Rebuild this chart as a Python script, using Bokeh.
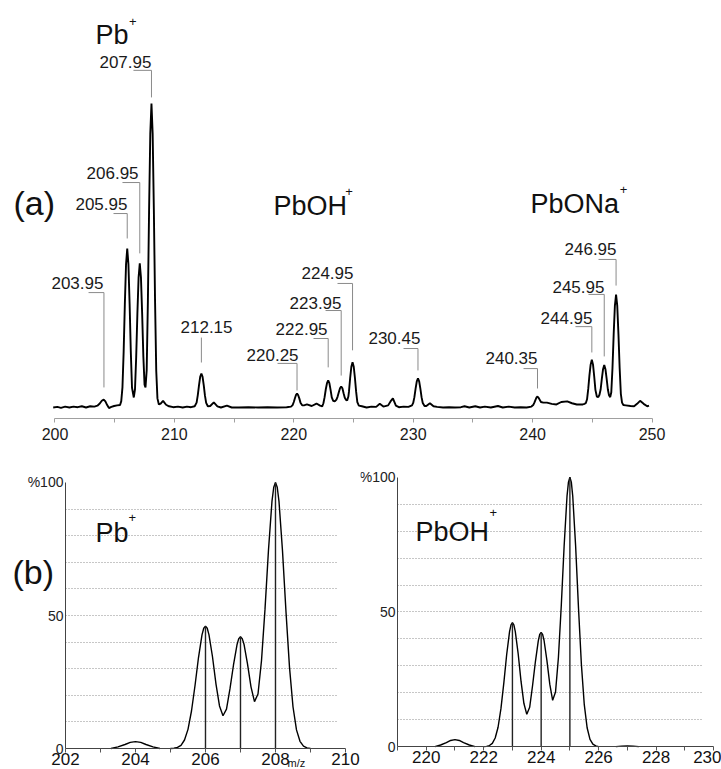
from bokeh.plotting import figure
from bokeh.layouts import column, row
from bokeh.models import FixedTicker, Label
from bokeh.embed import file_html
from bokeh.resources import INLINE
from bokeh.core.properties import value

FONT = "Liberation Sans"

# ---------------- (a) survey spectrum (m/z, relative intensity, 207.95 peak = 100) ----------------
top_mz = [199.85, 200.2, 200.5, 200.85, 201.2, 201.55, 201.9, 202.25, 202.6, 202.95, 203.3, 203.55,
          203.75, 203.92, 204.08, 204.22, 204.37, 204.52, 204.72, 204.95, 205.2, 205.45, 205.55, 205.65,
          205.75, 205.85, 205.95, 206.05, 206.15, 206.25, 206.35, 206.45, 206.6, 206.7, 206.8, 206.9,
          207.0, 207.1, 207.2, 207.3, 207.4, 207.5, 207.58, 207.68, 207.78, 207.88, 207.98, 208.08,
          208.18, 208.28, 208.38, 208.48, 208.58, 208.7, 208.85, 209.05, 209.3, 209.55, 209.9, 210.3,
          210.7, 211.05, 211.4, 211.7, 211.86, 211.96, 212.06, 212.16, 212.26, 212.36, 212.46, 212.56,
          212.66, 212.8, 213.0, 213.3, 213.6, 213.9, 214.4, 214.8, 215.4, 216.2, 217.0, 217.8, 218.6,
          219.4, 219.77, 219.9, 220.0, 220.1, 220.19, 220.27, 220.36, 220.46, 220.56, 220.7, 220.85,
          221.1, 221.5, 221.9, 222.2, 222.38, 222.48, 222.58, 222.68, 222.78, 222.88, 222.98, 223.08,
          223.18, 223.3, 223.43, 223.57, 223.67, 223.77, 223.87, 223.97, 224.07, 224.17, 224.27, 224.38,
          224.47, 224.57, 224.62, 224.72, 224.82, 224.92, 225.02, 225.12, 225.22, 225.32, 225.45, 225.7,
          226.1, 226.5, 226.9, 227.2, 227.5, 227.9, 228.1, 228.3, 228.55, 228.8, 229.2, 229.6, 229.9,
          230.0, 230.1, 230.2, 230.3, 230.4, 230.5, 230.6, 230.7, 230.8, 230.95, 231.1, 231.4, 231.7,
          232.0, 232.5, 233.0, 233.5, 234.0, 234.3, 234.7, 235.2, 235.6, 236.0, 236.5, 237.1, 237.5,
          238.0, 238.5, 239.0, 239.5, 239.9, 240.05, 240.15, 240.25, 240.33, 240.41, 240.5, 240.6,
          240.7, 240.9, 241.2, 241.6, 242.0, 242.4, 242.9, 243.3, 243.7, 244.2, 244.36, 244.46, 244.56,
          244.66, 244.76, 244.86, 244.96, 245.06, 245.16, 245.26, 245.38, 245.5, 245.6, 245.7, 245.8,
          245.9, 246.0, 246.1, 246.2, 246.3, 246.4, 246.5, 246.59, 246.69, 246.79, 246.89, 246.99,
          247.09, 247.19, 247.29, 247.39, 247.49, 247.6, 247.8, 248.2, 248.5, 248.75, 249.0, 249.3,
          249.6, 249.75]
top_int = [0.0, 0.2, -0.1, 0.3, 0.0, 0.3, 0.1, 0.4, 0.0, 0.4, 0.3, 0.6,
           1.3, 2.2, 2.6, 2.0, 0.8, -0.2, 0.2, 0.5, 0.7, 0.8, 2.1, 6.6,
           18.3, 34.0, 47.1, 52.3, 47.1, 34.0, 18.3, 6.5, 3.3, 6.0, 16.6, 30.8,
           42.7, 47.4, 42.7, 30.8, 16.8, 7.5, 6.6, 12.3, 35.0, 65.0, 90.0, 100.0,
           90.0, 65.0, 35.0, 12.0, 3.0, 1.0, 1.3, 2.2, 0.9, 0.4, 0.1, 0.3,
           0.0, 0.3, 0.1, 0.4, 1.6, 4.1, 7.3, 10.1, 11.2, 10.1, 7.3, 3.9,
           1.5, 0.4, 0.5, 1.7, 0.4, 0.0, 0.6, 0.0, 0.0, 0.1, 0.0, 0.1, 0.0,
           0.1, 0.3, 0.8, 1.8, 3.1, 4.2, 4.6, 4.1, 3.0, 1.6, 0.7, 0.7,
           1.0, 0.5, 1.3, 0.6, 0.4, 1.4, 3.4, 6.0, 8.0, 8.9, 8.0, 5.8,
           3.3, 2.2, 2.0, 2.6, 3.6, 5.0, 6.3, 6.9, 6.3, 4.7, 3.2, 2.5,
           2.3, 3.6, 5.2, 9.7, 13.4, 14.9, 13.4, 9.7, 5.2, 1.8, 0.6, 0.4,
           0.0, 0.3, 0.2, 1.2, 0.3, 0.7, 2.0, 3.0, 0.6, 0.1, 0.3, 0.2, 0.7,
           1.5, 3.4, 6.2, 8.6, 9.6, 8.6, 6.2, 3.4, 1.5, 0.5, 0.5, 1.4, 0.4,
           0.2, 0.0, 0.1, 0.0, 0.1, 0.4, 0.0, 0.4, 0.0, 0.3, 0.0, 0.5, 0.0,
           0.3, 0.0, 0.1, 0.0, 0.3, 0.8, 1.6, 2.6, 3.3, 3.6, 3.2, 2.5,
           1.8, 1.6, 1.6, 1.2, 1.0, 1.8, 2.0, 1.4, 1.0, 1.0, 1.2, 1.5, 2.7,
           6.1, 10.6, 14.1, 15.7, 14.1, 10.2, 5.8, 3.6, 3.4, 4.2, 6.0, 9.5,
           12.6, 14.0, 12.6, 9.5, 6.0, 4.0, 3.4, 5.0, 13.0, 24.1, 33.4, 37.1,
           33.4, 24.1, 13.0, 4.5, 1.6, 0.8, 0.7, 0.5, 0.4, 1.2, 2.2, 1.2,
           0.4, 0.6]

top_ticks = [200, 205, 210, 215, 220, 225, 230, 235, 240, 245, 250]

# peak labels of panel (a)
ann_text = ["203.95", "205.95", "206.95", "207.95", "212.15", "220.25", "222.95",
            "223.95", "224.95", "230.45", "240.35", "244.95", "245.95", "246.95"]
ann_peak_mz = [204.1, 206.05, 207.1, 208.08, 212.26, 220.27, 222.88,
               223.97, 224.92, 230.4, 240.41, 244.96, 246.0, 246.99]
# annotation layout (label centre, leader elbow, leader end) in data units
ann_text_x = [201.88, 203.89, 204.82, 205.9, 212.69, 218.22, 220.65,
              221.82, 222.82, 228.43, 238.23, 242.84, 243.84, 244.85]
ann_text_y = [41.1, 67.1, 77.0, 113.8, 26.6, 17.4, 25.7, 34.5, 44.1, 22.7, 16.4, 29.6, 39.8, 52.0]
ann_elbow_x = [202.81, 204.9, 205.65, 206.57, 212.26, 218.64, 221.65,
               222.66, 223.66, 229.19, 239.24, 243.59, 244.68, 245.52]
ann_elbow_y = [37.8, 63.8, 74.0, 110.9, 23.0, 14.5, 22.7, 31.9, 40.8, 19.4, 12.8, 26.6, 37.2, 48.7]
ann_end_y = [6.6, 55.6, 50.7, 102.0, 14.8, 5.6, 13.2, 10.5, 18.8, 12.2, 6.25, 18.1, 16.8, 40.1]

# ---------------- (b) simulated isotope patterns ----------------
pb_bump_mz = [203.3, 203.5, 203.7, 203.85, 204.0, 204.15, 204.3, 204.5, 204.7]
pb_bump_int = [0.0, 0.6, 1.5, 2.3, 2.6, 2.3, 1.5, 0.6, 0.0]
pb_mz = [205.0, 205.1, 205.2, 205.3, 205.4, 205.5, 205.6, 205.7, 205.8, 205.9, 205.95, 206.0,
         206.05, 206.1, 206.2, 206.3, 206.4, 206.5, 206.6, 206.7, 206.8, 206.9, 206.95, 207.0,
         207.05, 207.1, 207.2, 207.3, 207.4, 207.5, 207.6, 207.7, 207.8, 207.9, 207.95, 208.0,
         208.05, 208.1, 208.2, 208.3, 208.4, 208.5, 208.6, 208.7, 208.8, 208.9, 209.0]
pb_int = [0.0, 0.1, 0.4, 1.2, 3.2, 7.2, 14.1, 23.6, 34.2, 42.7, 45.2, 46.0,
          45.2, 42.7, 34.5, 24.2, 16.0, 12.3, 14.8, 22.5, 31.4, 39.0, 41.3, 42.0,
          41.3, 39.2, 31.8, 23.2, 17.6, 20.5, 33.0, 52.3, 74.6, 93.0, 98.2, 100.0,
          98.2, 92.9, 74.4, 51.4, 30.6, 15.7, 7.0, 2.7, 0.9, 0.25, 0.0]
pb_stick_mz = [206, 207, 208]
pb_stick_int = [46, 42, 100]

pboh_bump_mz = [220.3, 220.5, 220.7, 220.85, 221.0, 221.15, 221.3, 221.5, 221.7]
pboh_bump_int = [0.0, 0.6, 1.5, 2.3, 2.6, 2.3, 1.5, 0.6, 0.0]
pboh_tail_mz = [226.6, 226.8, 227.0, 227.2, 227.4]
pboh_tail_int = [0.0, 0.2, 0.3, 0.2, 0.0]
pboh_mz = [222.0, 222.1, 222.2, 222.3, 222.4, 222.5, 222.6, 222.7, 222.8, 222.9, 222.95, 223.0,
           223.05, 223.1, 223.2, 223.3, 223.4, 223.5, 223.6, 223.7, 223.8, 223.9, 223.95, 224.0,
           224.05, 224.1, 224.2, 224.3, 224.4, 224.5, 224.6, 224.7, 224.8, 224.9, 224.95, 225.0,
           225.05, 225.1, 225.2, 225.3, 225.4, 225.5, 225.6, 225.7, 225.8, 225.9, 226.0]
pboh_int = [0.0, 0.1, 0.4, 1.2, 3.2, 7.2, 14.1, 23.6, 34.2, 42.7, 45.2, 46.0,
            45.2, 42.7, 34.5, 24.2, 16.0, 12.0, 14.6, 22.6, 31.6, 39.3, 41.7, 42.4,
            41.7, 39.5, 32.0, 23.2, 17.2, 20.3, 33.0, 52.3, 74.6, 93.0, 98.2, 100.0,
            98.2, 92.9, 74.4, 51.4, 30.6, 15.7, 7.0, 2.7, 0.9, 0.25, 0.0]
pboh_stick_mz = [223, 224, 225]
pboh_stick_int = [46, 42.4, 100]

b_grid = [10, 20, 30, 40, 50, 60, 70, 80, 90]
b_yticks = [0, 50, 100]
pb_xticks = [202, 203, 204, 205, 206, 207, 208, 209, 210]
pboh_xticks = [219, 220, 221, 222, 223, 224, 225, 226, 227, 228, 229, 230]


def clean(p):
    p.outline_line_color = None
    p.background_fill_color = "white"
    p.border_fill_color = "white"


# ---------------- top panel ----------------
p1 = figure(width=721, height=448, x_range=(195.436, 255.82), y_range=(-3.62, 133.88),
            output_backend="svg", toolbar_location=None, y_axis_location=None,
            min_border_left=0, min_border_right=0, min_border_top=0, min_border_bottom=30)
clean(p1)
p1.grid.visible = False
ax = p1.xaxis[0]
ax.bounds = (200, 250)
ax.ticker = FixedTicker(ticks=top_ticks)
ax.major_label_overrides = {t: "" for t in top_ticks if t % 10 != 0}
ax.axis_line_color = "#a0a0a0"
ax.major_tick_line_color = "#a0a0a0"
ax.major_tick_out = 4
ax.major_tick_in = 0
ax.minor_tick_line_color = None
ax.major_label_text_font = FONT
ax.major_label_text_font_size = "16px"
ax.major_label_text_color = "#1a1a1a"
ax.major_label_standoff = 5

p1.line(top_mz, top_int, line_color="black", line_width=1.9)

lead_xs = [[ex, px, px] for ex, px in zip(ann_elbow_x, ann_peak_mz)]
lead_ys = [[ey, ey, ny] for ey, ny in zip(ann_elbow_y, ann_end_y)]
p1.multi_line(lead_xs, lead_ys, line_color="#8a8a8a", line_width=1)
p1.text(x=ann_text_x, y=ann_text_y, text=ann_text, text_font=value(FONT),
        text_font_size="17px", text_align="center", text_baseline="middle",
        text_color="#1a1a1a")


def add_label(p, x, y, text, size, align="left"):
    p.add_layout(Label(x=x, y=y, text=text, text_font=FONT, text_font_size=size,
                       text_color="#111111", text_align=align, text_baseline="alphabetic"))


add_label(p1, 196.52, 67.4, "(a)", "34px")
add_label(p1, 203.39, 122.4, "Pb", "27px")
add_label(p1, 206.2, 127.0, "+", "13px")
add_label(p1, 218.3, 66.4, "PbOH", "27px")
add_label(p1, 224.3, 71.1, "+", "13px")
add_label(p1, 239.82, 67.1, "PbONa", "27px")
add_label(p1, 247.3, 71.7, "+", "13px")


# ---------------- bottom panels ----------------
def bottom(width, xr, yr, x0, xbounds, gbounds, xticks, labeled):
    p = figure(width=width, height=321, x_range=xr, y_range=yr, output_backend="svg",
               toolbar_location=None, min_border_left=0, min_border_right=0,
               min_border_top=0, min_border_bottom=0)
    clean(p)
    p.xgrid.visible = False
    p.ygrid.ticker = FixedTicker(ticks=b_grid)
    p.ygrid.grid_line_color = "#8f8f8f"
    p.ygrid.grid_line_dash = "1 2"
    p.ygrid.grid_line_width = 1
    try:
        p.ygrid.cross_bounds = gbounds
    except Exception:
        pass
    xa = p.xaxis[0]
    xa.fixed_location = 0
    xa.bounds = xbounds
    xa.ticker = FixedTicker(ticks=xticks)
    xa.major_label_overrides = {t: "" for t in xticks if t not in labeled}
    xa.axis_line_color = "#444444"
    xa.major_tick_line_color = "#555555"
    xa.major_tick_out = 4
    xa.major_tick_in = 0
    xa.minor_tick_line_color = None
    xa.major_label_text_font = FONT
    xa.major_label_text_font_size = "17px"
    xa.major_label_text_color = "#111111"
    xa.major_label_standoff = 0
    ya = p.yaxis[0]
    ya.fixed_location = x0
    ya.bounds = (0, 100)
    ya.ticker = FixedTicker(ticks=b_yticks)
    ya.major_label_overrides = {100: "%100"}
    ya.axis_line_color = "#444444"
    ya.major_tick_line_color = None
    ya.minor_tick_line_color = None
    ya.major_tick_out = 0
    ya.major_tick_in = 0
    ya.major_label_text_font = FONT
    ya.major_label_text_font_size = "14px"
    ya.major_label_text_color = "#222222"
    ya.major_label_standoff = 2
    return p


p2 = bottom(360, (200.143, 210.429), (-7.89, 112.78), 202, (202, 210), (202, 209.8),
            pb_xticks, [202, 204, 206, 208, 210])
p2.multi_line([pb_bump_mz, pb_mz], [pb_bump_int, pb_int], line_color="black", line_width=1.4)
p2.segment(x0=pb_stick_mz, y0=[0] * len(pb_stick_mz), x1=pb_stick_mz, y1=pb_stick_int,
           line_color="#222222", line_width=1.4)
add_label(p2, 200.486, 66.2, "(b)", "34px")
add_label(p2, 202.857, 81.2, "Pb", "27px")
add_label(p2, 203.8, 86.8, "+", "13px")
add_label(p2, 208.343, -5.3, "m/z", "11px")

p3 = bottom(361, (217.712, 230.277), (-8.49, 110.7), 219, (219, 230), (219, 229.65),
            pboh_xticks, [220, 222, 224, 226, 228, 230])
p3.multi_line([pboh_bump_mz, pboh_mz, pboh_tail_mz], [pboh_bump_int, pboh_int, pboh_tail_int],
              line_color="black", line_width=1.4)
p3.segment(x0=pboh_stick_mz, y0=[0] * len(pboh_stick_mz), x1=pboh_stick_mz, y1=pboh_stick_int,
           line_color="#222222", line_width=1.4)
add_label(p3, 219.627, 79.7, "PbOH", "27px")
add_label(p3, 222.2, 87.1, "+", "13px")

layout = column(p1, row(p2, p3))
open("out.html", "w").write(file_html(layout, INLINE))
